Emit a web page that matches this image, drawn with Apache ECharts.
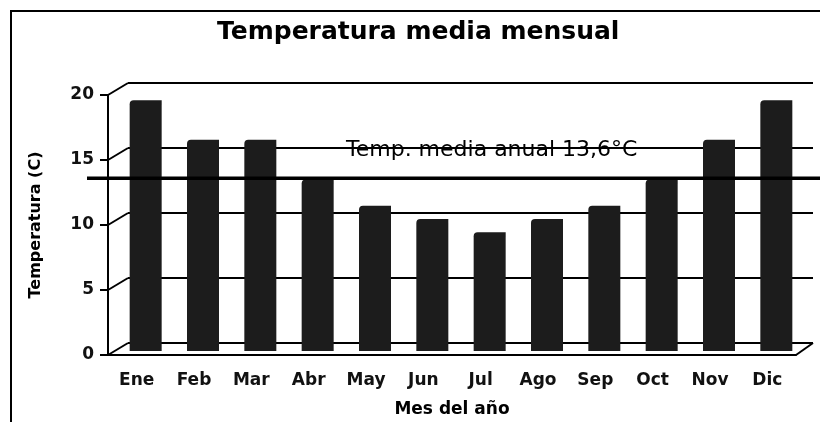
<!DOCTYPE html>
<html>
<head>
<meta charset="utf-8">
<script src="https://cdn.jsdelivr.net/npm/echarts@6/dist/echarts.min.js"></script>
<style>
  html, body { margin: 0; padding: 0; background: #fff; }
  #chart { width: 820px; height: 422px; }
</style>
</head>
<body>
<div id="chart"></div>
<script>
// ---- data ----
const months = ['Ene', 'Feb', 'Mar', 'Abr', 'May', 'Jun', 'Jul', 'Ago', 'Sep', 'Oct', 'Nov', 'Dic'];
const temps = [19, 16, 16, 13, 11, 10, 9, 10, 11, 13, 16, 19];
const yTicks = [0, 5, 10, 15, 20];
const annualMean = 13.6;
const titleText = 'Temperatura media mensual';
const xName = 'Mes del año';
const yName = 'Temperatura (C)';
const meanLabel = 'Temp. media anual ' + String(annualMean).replace('.', ',') + '°C';

// ---- style constants ----
const DEPTH_X = 20, DEPTH_Y = 12;
const FONT = '"DejaVu Sans", Verdana, sans-serif';
const yMin = yTicks[0], yMax = yTicks[yTicks.length - 1], yStep = yTicks[1] - yTicks[0];

const chart = echarts.init(document.getElementById('chart'), null, { renderer: 'canvas' });

const option = {
  backgroundColor: '#ffffff',
  animation: false,
  title: [
    { text: titleText, left: 212, top: 15,
      textStyle: { fontFamily: FONT, fontSize: 25, fontWeight: 'bold', color: '#000' } },
    { text: meanLabel, left: 341, top: 134,
      textStyle: { fontFamily: FONT, fontSize: 22, fontWeight: 'normal', color: '#000' } }
  ],
  graphic: [
    { type: 'polyline', silent: true, z: 100,
      shape: { points: [[11, 422], [11, 11], [820, 11]] },
      style: { stroke: '#000', lineWidth: 2, fill: null } }
  ],
  grid: [
    // back wall
    { left: 128, right: 7, top: 83, height: 260, outerBoundsMode: 'none', containLabel: false },
    // front axis
    { left: 108, right: 24, top: 95, height: 260, outerBoundsMode: 'none', containLabel: false },
    // bars (mid depth)
    { left: 117, right: 15, top: 87, height: 264, outerBoundsMode: 'none', containLabel: false },
    // annual mean line
    { left: 87, right: 0, top: 95, height: 260, outerBoundsMode: 'none', containLabel: false }
  ],
  xAxis: [
    { gridIndex: 0, type: 'category', data: months, show: false },
    { gridIndex: 1, type: 'category', data: months,
      axisLine: { show: true, lineStyle: { color: '#000', width: 2 } },
      axisTick: { show: false },
      axisLabel: { fontFamily: FONT, fontSize: 17, fontWeight: 'bold', color: '#111', margin: 17 },
      name: xName, nameLocation: 'middle', nameGap: 46,
      nameTextStyle: { fontFamily: FONT, fontSize: 17, fontWeight: 'bold', color: '#000' } },
    { gridIndex: 2, type: 'category', data: months, show: false },
    { gridIndex: 3, type: 'value', min: 0, max: 1, show: false }
  ],
  yAxis: [
    { gridIndex: 0, type: 'value', min: yMin, max: yMax, interval: yStep,
      axisLine: { show: false }, axisTick: { show: false }, axisLabel: { show: false },
      splitLine: { show: true, lineStyle: { color: '#000', width: 2 } } },
    { gridIndex: 1, type: 'value', min: yMin, max: yMax, interval: yStep,
      axisLine: { show: true, lineStyle: { color: '#000', width: 2 } },
      axisTick: { show: true, length: 8, lineStyle: { color: '#000', width: 2 } },
      axisLabel: { fontFamily: FONT, fontSize: 17, fontWeight: 'bold', color: '#111', margin: 14 },
      splitLine: { show: false },
      name: yName, nameLocation: 'middle', nameGap: 64,
      nameTextStyle: { fontFamily: FONT, fontSize: 16, fontWeight: 'bold', color: '#000' } },
    { gridIndex: 2, type: 'value', min: yMin, max: yMax, show: false },
    { gridIndex: 3, type: 'value', min: yMin, max: yMax, show: false }
  ],
  series: [
    {
      name: 'perspective', type: 'custom', xAxisIndex: 1, yAxisIndex: 1,
      data: yTicks.map(v => [0, v]),
      encode: { x: 0, y: 1 },
      silent: true, z: 1,
      renderItem: function (params, api) {
        const cs = params.coordSys;
        const v = api.value(1);
        const y = api.coord([0, v])[1];
        const children = [{
          type: 'line',
          shape: { x1: cs.x, y1: y, x2: cs.x + DEPTH_X, y2: y - DEPTH_Y },
          style: { stroke: '#000', lineWidth: 2 }
        }];
        if (v === yMin) {
          const xr = cs.x + cs.width;
          children.push({
            type: 'line',
            shape: { x1: xr, y1: y, x2: xr + DEPTH_X - 3, y2: y - DEPTH_Y },
            style: { stroke: '#000', lineWidth: 2 }
          });
        }
        return { type: 'group', children: children };
      }
    },
    {
      name: 'Temperatura', type: 'bar', xAxisIndex: 2, yAxisIndex: 2,
      data: temps, barWidth: 32, z: 3,
      itemStyle: { color: '#1c1c1c', borderRadius: [4, 0, 0, 0] }
    },
    {
      name: 'Media anual', type: 'line', xAxisIndex: 3, yAxisIndex: 3,
      data: [[0, annualMean], [1, annualMean]],
      symbol: 'none', z: 4,
      lineStyle: { color: '#000', width: 3.5 }
    }
  ]
};
chart.setOption(option);
</script>
</body>
</html>
